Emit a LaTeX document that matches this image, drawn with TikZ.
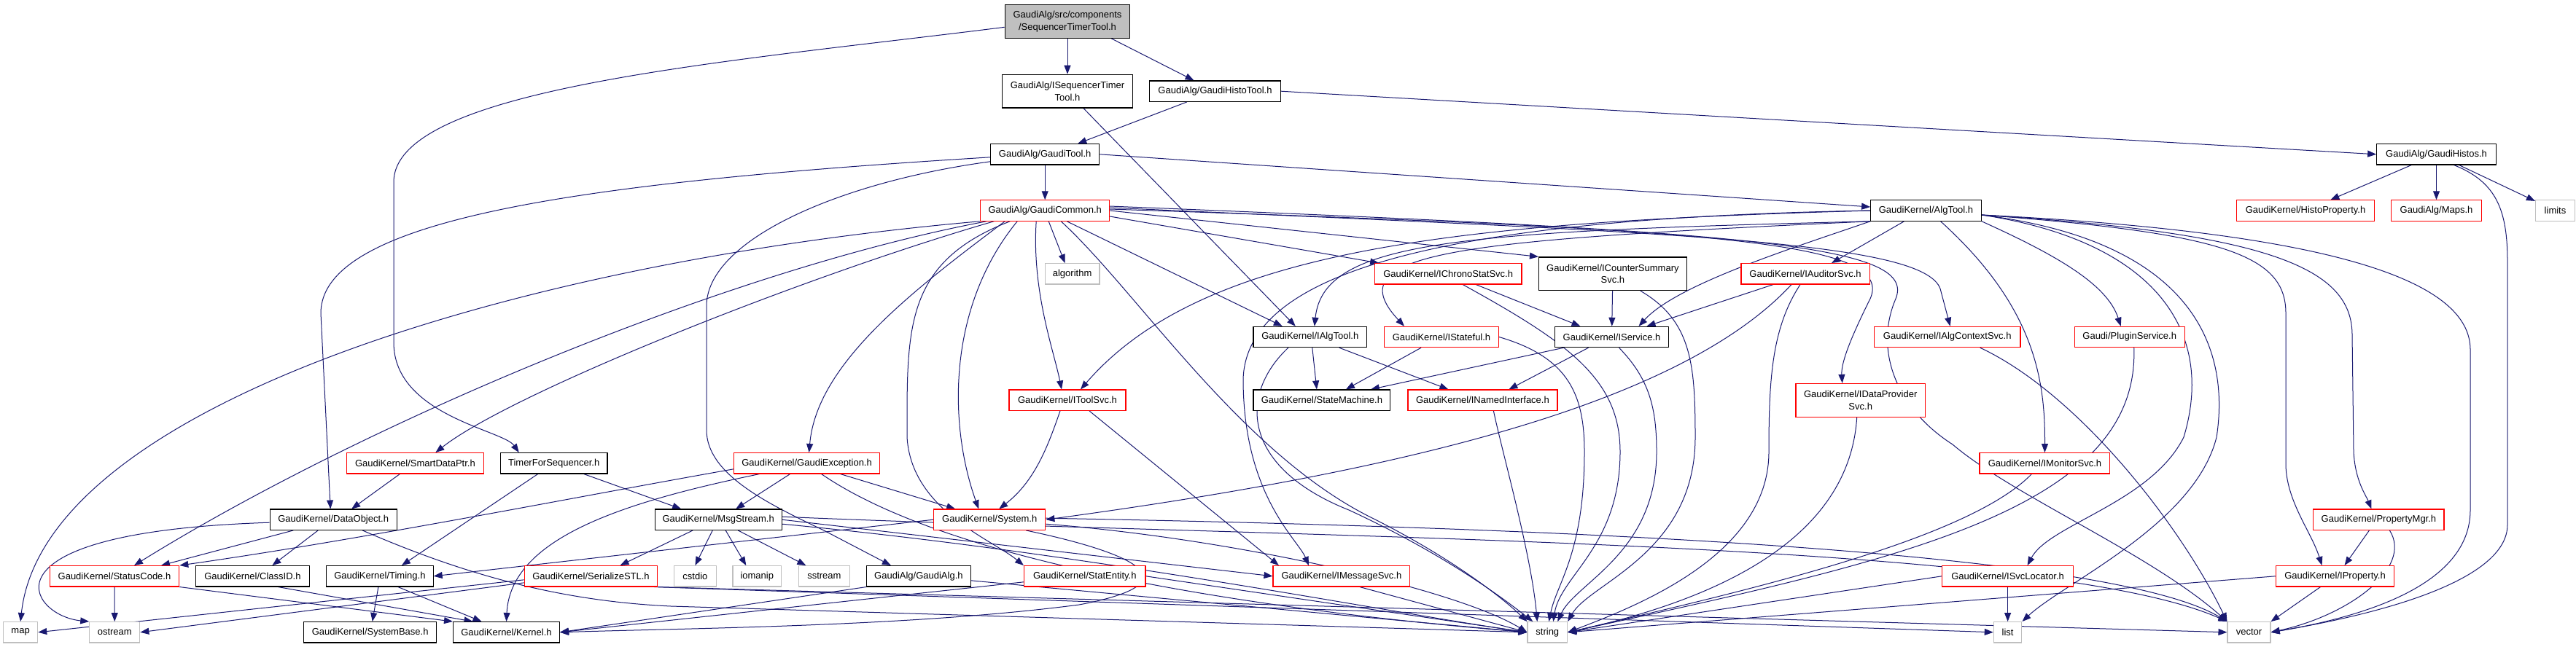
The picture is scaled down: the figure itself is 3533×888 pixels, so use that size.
\documentclass[tikz,border=0pt]{standalone}
\usepackage{fontspec}
\setmainfont{Liberation Sans}
\usetikzlibrary{arrows.meta}
\definecolor{edgec}{HTML}{191970}
\definecolor{grayb}{HTML}{BFBFBF}
\newcommand\nodefont{\fontsize{13}{16.7}\selectfont}
\pgfdeclarelayer{bg}
\pgfsetlayers{bg,main}
\begin{document}
\begin{tikzpicture}[x=1pt,y=-1pt,
 box/.style={draw=black, line width=1.2pt, fill=white, font=\nodefont, align=center, inner sep=0pt, minimum height=28.3pt},
 rbox/.style={box, draw=red},
 gbox/.style={box, draw=grayb},
 tall/.style={minimum height=45.7pt},
 e/.style={draw=edgec, line width=1pt, -{Triangle[length=12pt,width=9pt]}}]
\useasboundingbox (0,0) rectangle (3533,888);
% nodes
\node[box, fill=grayb, tall, minimum width=171.6pt] (root) at (1464,29.3) {GaudiAlg/src/components\\/SequencerTimerTool.h};
\node[box, tall, minimum width=178.5pt] (iseq) at (1464,125.2) {GaudiAlg/ISequencerTimer\\Tool.h};
\node[box, minimum width=179.7pt] (histotool) at (1666.5,125.2) {GaudiAlg/GaudiHistoTool.h};
\node[box, minimum width=149.3pt] (gauditool) at (1433.2,211.8) {GaudiAlg/GaudiTool.h};
\node[box, minimum width=163.5pt] (histos) at (3341.5,211.8) {GaudiAlg/GaudiHistos.h};
\node[rbox, minimum width=176.8pt] (common) at (1433.2,289) {GaudiAlg/GaudiCommon.h};
\node[box, minimum width=151.5pt] (algtool) at (2641.5,289) {GaudiKernel/AlgTool.h};
\node[rbox, minimum width=189pt] (histoprop) at (3162,289) {GaudiKernel/HistoProperty.h};
\node[rbox, minimum width=124pt] (maps) at (3341.5,289) {GaudiAlg/Maps.h};
\node[gbox, minimum width=54pt] (limits) at (3504.5,289) {limits};
\node[gbox, minimum width=74.6pt] (algorithm) at (1470.6,375.8) {algorithm};
\node[rbox, minimum width=201.5pt] (ichrono) at (1986.2,375.8) {GaudiKernel/IChronoStatSvc.h};
\node[box, tall, minimum width=202.7pt] (icounter) at (2211.9,375.8) {GaudiKernel/ICounterSummary\\Svc.h};
\node[rbox, minimum width=176.2pt] (iauditor) at (2476,375.8) {GaudiKernel/IAuditorSvc.h};
\node[box, minimum width=155.6pt] (ialgtool) at (1796.8,462.5) {GaudiKernel/IAlgTool.h};
\node[rbox, minimum width=156.7pt] (istateful) at (1977,462.5) {GaudiKernel/IStateful.h};
\node[box, minimum width=156pt] (iservice) at (2210.5,462.5) {GaudiKernel/IService.h};
\node[rbox, minimum width=200.7pt] (ialgctx) at (2670.7,462.5) {GaudiKernel/IAlgContextSvc.h};
\node[rbox, minimum width=151pt] (plugin) at (2920.7,462.5) {Gaudi/PluginService.h};
\node[rbox, minimum width=160pt] (itoolsvc) at (1464,549.2) {GaudiKernel/IToolSvc.h};
\node[box, minimum width=187.8pt] (statemachine) at (1812.9,549.2) {GaudiKernel/StateMachine.h};
\node[rbox, minimum width=205pt] (inamed) at (2033.4,549.2) {GaudiKernel/INamedInterface.h};
\node[rbox, tall, minimum width=177.3pt] (idataprov) at (2551.7,549.3) {GaudiKernel/IDataProvider\\Svc.h};
\node[rbox, minimum width=188.2pt] (smartdataptr) at (569.4,635.8) {GaudiKernel/SmartDataPtr.h};
\node[box, minimum width=146.4pt] (timerfor) at (759.7,635.8) {TimerForSequencer.h};
\node[rbox, minimum width=199.7pt] (gaudiexc) at (1106.6,635.8) {GaudiKernel/GaudiException.h};
\node[rbox, minimum width=178.8pt] (imonitor) at (2804.4,635.8) {GaudiKernel/IMonitorSvc.h};
\node[box, minimum width=173.9pt] (dataobject) at (457.2,713.2) {GaudiKernel/DataObject.h};
\node[box, minimum width=173.9pt] (msgstream) at (985.2,713.2) {GaudiKernel/MsgStream.h};
\node[rbox, minimum width=153.2pt] (system) at (1357.2,713.2) {GaudiKernel/System.h};
\node[rbox, minimum width=179.3pt] (propertymgr) at (3262.4,713.2) {GaudiKernel/PropertyMgr.h};
\node[rbox, minimum width=177.4pt] (statuscode) at (157,790.8) {GaudiKernel/StatusCode.h};
\node[box, minimum width=155.6pt] (classid) at (346.4,790.8) {GaudiKernel/ClassID.h};
\node[box, minimum width=146.4pt] (timing) at (520.9,790.8) {GaudiKernel/Timing.h};
\node[rbox, minimum width=182.5pt] (serializestl) at (810.5,790.8) {GaudiKernel/SerializeSTL.h};
\node[gbox, minimum width=57.4pt] (cstdio) at (953.4,790.8) {cstdio};
\node[gbox, minimum width=66.6pt] (iomanip) at (1038.3,790.8) {iomanip};
\node[gbox, minimum width=69.5pt] (sstream) at (1130.4,790.8) {sstream};
\node[box, minimum width=142.4pt] (gaudialg) at (1259.9,790.8) {GaudiAlg/GaudiAlg.h};
\node[rbox, minimum width=166.5pt] (statentity) at (1487.8,790.8) {GaudiKernel/StatEntity.h};
\node[rbox, minimum width=187.7pt] (imessagesvc) at (1839.9,790.8) {GaudiKernel/IMessageSvc.h};
\node[rbox, minimum width=179.9pt] (isvclocator) at (2753.6,790.8) {GaudiKernel/ISvcLocator.h};
\node[rbox, minimum width=162.4pt] (iproperty) at (3202.5,790.8) {GaudiKernel/IProperty.h};
\node[gbox, minimum width=47.1pt] (map) at (28.1,867.8) {map};
\node[gbox, minimum width=68.9pt] (ostream) at (157.3,867.8) {ostream};
\node[box, minimum width=182pt] (systembase) at (507.7,867.8) {GaudiKernel/SystemBase.h};
\node[box, minimum width=145.8pt] (kernel) at (694.5,867.8) {GaudiKernel/Kernel.h};
\node[gbox, minimum width=54.6pt] (string) at (2122.3,867.8) {string};
\node[gbox, minimum width=38.5pt] (list) at (2753.6,867.8) {list};
\node[gbox, minimum width=58.9pt] (vector) at (3084.5,867.8) {vector};

\begin{pgfonlayer}{bg}
% root
\draw[e] (root) -- (iseq);
\draw[e] ([xshift=60pt]root.south) -- (histotool);
\draw[e] ([yshift=-8pt]root.west) .. controls (1000,85) and (540,120) .. (540,250) -- (540,470) .. controls (540,570) and (690,590) .. ([xshift=-48pt]timerfor.north);
% iseq
\draw[e] ([xshift=22pt]iseq.south) -- ([xshift=-20pt]ialgtool.north);
% histotool
\draw[e] (histotool) -- ([xshift=45pt]gauditool.north);
\draw[e] (histotool.east) -- (histos.west);
% gauditool
\draw[e] (gauditool) -- (common);
\draw[e] (gauditool.east) -- ([yshift=5pt]algtool.west);
\draw[e] ([yshift=-4pt]gauditool.west) .. controls (800,250) and (440,300) .. (440,430) -- ([xshift=-4pt]dataobject.north);
\draw[e] ([yshift=-10pt]gauditool.west) .. controls (1150,250) and (969,330) .. (969,420) -- (969,590) .. controls (969,650) and (1050,690) .. (1130,728) -- ([xshift=-38pt]gaudialg.north);
% histos
\draw[e] (histos) -- (histoprop);
\draw[e] (histos) -- (maps);
\draw[e] (histos) -- (limits);
\draw[e] ([xshift=24pt]histos.south) .. controls (3425,250) and (3439,290) .. (3439,360) -- (3439,720) .. controls (3439,800) and (3250,845) .. (vector.east);
% common
\draw[e] ([xshift=5pt]common.south) -- ([xshift=-10pt]algorithm.north);
\draw[e] ([xshift=-12pt]common.south) .. controls (1415,400) and (1445,480) .. ([xshift=-8pt]itoolsvc.north);
\draw[e] ([xshift=30pt]common.south) -- ([xshift=-38pt]ialgtool.north);
\draw[e] ([yshift=-8pt]common.east) -- ([xshift=-95pt]ichrono.north);
\draw[e] (common.east) -- (icounter.north west);
\draw[e] ([yshift=4pt]common.east) .. controls (2300,320) and (2650,330) .. (2662,400) -- ([xshift=4pt]ialgctx.north);
\draw[e] ([yshift=2pt]common.east) .. controls (2350,315) and (2600,330) .. (2565,410) .. controls (2535,470) and (2525,500) .. ([xshift=-25pt]idataprov.north);
\draw[e] ([yshift=6pt]common.east) .. controls (2400,318) and (2630,335) .. (2600,410) .. controls (2570,480) and (2600,560) .. (2678,610) .. controls (2760,680) and (2950,760) .. (vector.north west);
\draw[e] (common.south west) .. controls (700,360) and (60,560) .. (map.north);
\draw[e] ([xshift=-80pt]common.south) .. controls (1000,370) and (500,580) .. ([xshift=27pt]statuscode.north);
\draw[e] ([xshift=-70pt]common.south) .. controls (1100,380) and (700,540) .. ([xshift=28pt]smartdataptr.north);
\draw[e] ([xshift=-55pt]common.south) .. controls (1250,400) and (1120,500) .. ([xshift=3pt]gaudiexc.north);
\draw[e] ([xshift=-38pt]common.south) .. controls (1300,420) and (1300,580) .. ([xshift=-15pt]system.north);
\draw[e] ([xshift=-48pt]common.south) .. controls (1240,360) and (1244,450) .. (1244,600) .. controls (1250,700) and (1360,740) .. (statentity.north west);
\draw[e] ([xshift=22pt]common.south) .. controls (1560,400) and (1700,620) .. (1880,710) .. controls (1990,765) and (2060,820) .. (string.north west);
% algtool
\draw[e] (algtool.south west) .. controls (2000,318) and (1815,330) .. ([xshift=6pt]ialgtool.north);
\draw[e] (algtool.south west) .. controls (2000,330) and (1830,345) .. ([xshift=-51pt]istateful.north);
\draw[e] (algtool.south west) .. controls (2460,340) and (2300,390) .. ([xshift=37pt]iservice.north);
\draw[e] ([xshift=-30pt]algtool.south) -- ([xshift=36pt]iauditor.north);
\draw[e] (algtool.west) .. controls (2000,305) and (1650,340) .. ([xshift=18pt]itoolsvc.north);
\draw[e] (algtool.west) .. controls (1950,300) and (1710,380) .. (1705,520) .. controls (1705,680) and (1780,740) .. ([xshift=-45pt]imessagesvc.north);
\draw[e] ([xshift=20pt]algtool.south) .. controls (2790,420) and (2805,520) .. (imonitor.north);
\draw[e] (algtool.south east) .. controls (2820,350) and (2890,390) .. ([xshift=-12pt]plugin.north);
\draw[e] ([yshift=-6pt]algtool.east) .. controls (2950,330) and (3040,450) .. (2995,600) .. controls (2950,690) and (2810,720) .. ([xshift=27pt]isvclocator.north);
\draw[e] ([yshift=-6pt]algtool.east) .. controls (3000,330) and (3060,470) .. (3040,600) .. controls (3010,720) and (2830,800) .. (list.north east);
\draw[e] ([yshift=-6pt]algtool.east) .. controls (3050,320) and (3135,350) .. (3135,430) -- (3135,640) .. controls (3137,690) and (3170,730) .. ([xshift=-18pt]iproperty.north);
\draw[e] ([yshift=-6pt]algtool.east) .. controls (3120,320) and (3226,370) .. (3226,460) -- (3228,620) .. controls (3230,660) and (3245,680) .. ([xshift=-10pt]propertymgr.north);
\draw[e] ([yshift=-6pt]algtool.east) .. controls (3220,320) and (3388,390) .. (3388,480) -- (3388,700) .. controls (3388,800) and (3250,845) .. (vector.east);
% ialgtool
\draw[e] ([xshift=3pt]ialgtool.south) -- ([xshift=-7pt]statemachine.north);
\draw[e] ([xshift=40pt]ialgtool.south) -- ([xshift=-47pt]inamed.north);
\draw[e] ([xshift=-30pt]ialgtool.south) .. controls (1700,540) and (1700,640) .. (1850,700) .. controls (1980,760) and (2060,820) .. ([xshift=-20pt]string.north);
% istateful
\draw[e] ([xshift=-28pt]istateful.south) -- ([xshift=33pt]statemachine.north);
\draw[e] (istateful.east) .. controls (2150,490) and (2173,540) .. (2173,620) .. controls (2173,760) and (2135,800) .. ([xshift=2pt]string.north);
% ichrono
\draw[e] ([xshift=38pt]ichrono.south) -- ([xshift=-43pt]iservice.north);
\draw[e] ([xshift=20pt]ichrono.south) .. controls (2150,470) and (2222,520) .. (2222,620) .. controls (2222,750) and (2140,790) .. ([xshift=8pt]string.north);
% icounter
\draw[e] (icounter) -- (iservice);
\draw[e] ([xshift=38pt]icounter.south) .. controls (2320,440) and (2325,500) .. (2325,600) .. controls (2325,760) and (2180,800) .. (string.north east);
% iauditor
\draw[e] ([xshift=-44pt]iauditor.south) -- ([xshift=48pt]iservice.north);
\draw[e] ([xshift=-19pt]iauditor.south) .. controls (2300,560) and (1900,650) .. (system.east);
\draw[e] ([xshift=-7pt]iauditor.south) .. controls (2430,450) and (2426,520) .. (2426,620) .. controls (2426,760) and (2250,830) .. (string.east);
% iservice
\draw[e] ([xshift=-66pt]iservice.south) -- ([xshift=67pt]statemachine.north);
\draw[e] ([xshift=-32pt]iservice.south) -- ([xshift=36pt]inamed.north);
\draw[e] ([xshift=10pt]iservice.south) .. controls (2262,520) and (2272,560) .. (2272,620) .. controls (2272,760) and (2160,800) .. ([xshift=14pt]string.north);
% inamed
\draw[e] ([xshift=15pt]inamed.south) .. controls (2060,620) and (2100,760) .. ([xshift=-14pt]string.north);
% others to string / vector
\draw[e] ([xshift=-5pt]idataprov.south) .. controls (2540,680) and (2460,800) .. (string.east);
\draw[e] ([xshift=45pt]ialgctx.south) .. controls (2850,540) and (2990,720) .. (vector.north west);
\draw[e] ([xshift=6pt]plugin.south) .. controls (2935,700) and (2600,770) .. (string.east);
\draw[e] ([xshift=-18pt]imonitor.south) .. controls (2700,740) and (2400,810) .. (string.east);
\draw[e] (isvclocator) -- (list);
\draw[e] (isvclocator.west) -- (string.east);
\draw[e] (iproperty.west) -- (string.east);
\draw[e] ([xshift=-20pt]iproperty.south) -- (vector.north east);
\draw[e] ([xshift=-13pt]propertymgr.south) -- ([xshift=13pt]iproperty.north);
\draw[e] ([xshift=15pt]propertymgr.south) .. controls (3310,780) and (3220,845) .. (vector.east);
% itoolsvc
\draw[e] ([xshift=-10pt]itoolsvc.south) .. controls (1438,610) and (1420,660) .. ([xshift=13pt]system.north);
\draw[e] ([xshift=30pt]itoolsvc.south) -- ([xshift=-86pt]imessagesvc.north);
% gaudiexc
\draw[e] ([xshift=-23pt]gaudiexc.south) -- ([xshift=24pt]msgstream.north);
\draw[e] ([xshift=46pt]gaudiexc.south) -- ([xshift=-47pt]system.north);
\draw[e] ([yshift=-8pt]gaudiexc.west) .. controls (800,680) and (500,740) .. (statuscode.north east);
\draw[e] ([xshift=-65pt]gaudiexc.south) .. controls (850,690) and (700,740) .. (kernel.north);
\draw[e] ([xshift=20pt]gaudiexc.south) .. controls (1300,770) and (1700,835) .. (string.west);
% msgstream
\draw[e] ([xshift=-35pt]msgstream.south) -- ([xshift=40pt]serializestl.north);
\draw[e] ([xshift=-8pt]msgstream.south) -- (cstdio.north);
\draw[e] ([xshift=10pt]msgstream.south) -- ([xshift=-15pt]iomanip.north);
\draw[e] ([xshift=27pt]msgstream.south) -- ([xshift=-25pt]sstream.north);
\draw[e] (msgstream.east) -- (imessagesvc.west);
\draw[e] ([yshift=-6pt]msgstream.east) .. controls (1500,760) and (1900,840) .. (string.west);
\draw[e] ([yshift=4pt]msgstream.east) .. controls (1800,740) and (2800,740) .. (vector.north west);
% system
\draw[e] (system.west) -- (timing.east);
\draw[e] ([xshift=50pt]system.south) .. controls (1560,760) and (1640,800) .. (1480,830) .. controls (1250,860) and (950,862) .. (kernel.east);
\draw[e] ([yshift=-6pt]system.east) .. controls (1700,740) and (2000,810) .. (string.west);
\draw[e] ([yshift=2pt]system.east) .. controls (2200,725) and (2900,760) .. (vector.north west);
% bottom row
\draw[e] ([yshift=-8pt]statentity.west) -- (kernel.east);
\draw[e] (statentity.east) -- (string.west);
\draw[e] (gaudialg.south west) -- (kernel.east);
\draw[e] ([yshift=-6pt]gaudialg.east) -- (string.west);
\draw[e] ([xshift=25pt]imessagesvc.south) -- (string.west);
\draw[e] ([xshift=-55pt]dataobject.south) -- ([xshift=64pt]statuscode.north);
\draw[e] ([xshift=-21pt]dataobject.south) -- ([xshift=27pt]classid.north);
\draw[e] ([yshift=-4pt]dataobject.west) .. controls (-40,730) and (40,845) .. (ostream.north west);
\draw[e] ([xshift=40pt]dataobject.south) .. controls (640,790) and (770,825) .. (920,832) -- (string.west);
\draw[e] (statuscode) -- (ostream);
\draw[e] (statuscode.south east) -- (kernel.north west);
\draw[e] ([xshift=35pt]classid.south) -- ([xshift=-46pt]kernel.north);
\draw[e] ([xshift=-2pt]timing.south) -- ([xshift=3pt]systembase.north);
\draw[e] ([xshift=25pt]timing.south) -- ([xshift=-34pt]kernel.north);
\draw[e] ([yshift=-5pt]serializestl.west) -- (map.east);
\draw[e] ([yshift=-9pt]serializestl.west) -- (ostream.east);
\draw[e] (serializestl.south east) -- (vector.west);
\draw[e] ([xshift=-5pt]serializestl.south east) -- (list.west);
\draw[e] ([xshift=-22pt]timerfor.south) -- ([xshift=30pt]timing.north);
\draw[e] ([xshift=41pt]timerfor.south) -- ([xshift=-51pt]msgstream.north);
\draw[e] ([xshift=-21pt]smartdataptr.south) -- ([xshift=25pt]dataobject.north);
\end{pgfonlayer}
\end{tikzpicture}
\end{document}
